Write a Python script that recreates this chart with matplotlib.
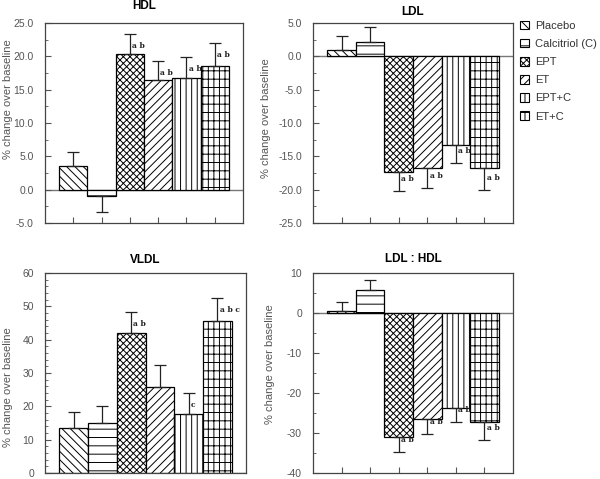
import matplotlib
matplotlib.use("Agg")
import matplotlib.pyplot as plt
from matplotlib.patches import Patch
from matplotlib.ticker import MultipleLocator, FormatStrFormatter

plt.rcParams["font.family"] = ["Liberation Sans", "DejaVu Sans"]
plt.rcParams["hatch.linewidth"] = 0.7

# ==============================
# DATA
# ==============================

groups = ["Placebo", "Calcitriol (C)", "EPT", "ET", "EPT+C", "ET+C"]

hdl_vals = [3.5, -0.9, 20.4, 16.5, 16.8, 18.6]
hdl_err = [2.1, 2.4, 2.9, 2.85, 3.1, 3.4]
hdl_marks = ["", "", "a b", "a b", "a b", "a b"]

ldl_vals = [0.9, 2.2, -17.4, -16.7, -13.3, -16.8]
ldl_err = [2.2, 2.2, 2.8, 3.0, 2.7, 3.3]
ldl_marks = ["", "", "a b", "a b", "a b", "a b"]

vldl_vals = [13.5, 15.0, 42.0, 25.8, 17.7, 45.6]
vldl_err = [4.8, 5.1, 6.3, 6.6, 6.3, 6.9]
vldl_marks = ["", "", "a b", "", "c", "a b c"]

ratio_vals = [0.4, 5.7, -31.0, -26.5, -23.8, -27.3]
ratio_err = [2.4, 2.6, 3.8, 3.7, 3.4, 4.4]
ratio_marks = ["", "", "a b", "a b", "a b", "a b"]

hatches = ["\\\\\\\\", "--", "xxxxx", "////", "|||", "|||--"]

# ==============================
# PANEL HELPER
# ==============================

grey = "#555555"


def panel(rect, title, vals, errs, marks, ylim, major, minor, fmt, title_pad, label_pos):
    ax = fig.add_axes(rect)
    x = list(range(len(vals)))
    ax.axhline(0, color="#777777", lw=1.0, zorder=0)
    ax.bar(x, vals, width=1.0, color="white", edgecolor="black",
           linewidth=0.9, hatch=hatches, zorder=2)
    lo = [e if v < 0 else 0 for v, e in zip(vals, errs)]
    hi = [e if v >= 0 else 0 for v, e in zip(vals, errs)]
    ax.errorbar(x, vals, yerr=[lo, hi], fmt="none", ecolor="#222222",
                elinewidth=0.9, capsize=4.5, capthick=0.9, zorder=3)
    span = ylim[1] - ylim[0]
    for xi, v, e, m in zip(x, vals, errs, marks):
        if not m:
            continue
        if v >= 0:
            y = v + e - 0.06 * span
        else:
            y = v - e + 0.06 * span
        ax.text(xi + 0.08, y, m, fontsize=5.5, family="DejaVu Serif",
                fontweight="bold", ha="left", va="center", color="#222222", zorder=4)
    ax.set_xlim(-1.0, 6.0)
    ax.set_ylim(*ylim)
    ax.set_xticks(x)
    ax.set_xticklabels([])
    ax.yaxis.set_major_locator(MultipleLocator(major))
    ax.yaxis.set_minor_locator(MultipleLocator(minor))
    ax.yaxis.set_major_formatter(FormatStrFormatter(fmt))
    ax.tick_params(axis="y", which="major", direction="in", length=4,
                   width=0.8, color=grey, labelsize=7.5, labelcolor=grey, pad=8)
    ax.tick_params(axis="y", which="minor", direction="in", length=2.5,
                   width=0.6, color=grey)
    ax.tick_params(axis="x", direction="in", length=4, width=0.8, color=grey)
    for s in ax.spines.values():
        s.set_color("#444444")
        s.set_linewidth(0.9)
    ax.set_title(title, fontsize=8.5, fontweight="bold", pad=title_pad)
    ax.set_ylabel("% change over baseline", fontsize=8, color=grey)
    ax.yaxis.set_label_coords(*label_pos)
    return ax


fig = plt.figure(figsize=(6.0, 4.79), dpi=100)

panel([0.075, 0.5344, 0.33, 0.4175], "HDL", hdl_vals, hdl_err, hdl_marks,
      (-5, 25), 5, 2.5, "%.1f", 10, (-0.16, 0.62))
panel([0.5217, 0.5344, 0.3333, 0.4175], "LDL", ldl_vals, ldl_err, ldl_marks,
      (-25, 5), 5, 2.5, "%.1f", 6, (-0.21, 0.525))
panel([0.075, 0.0125, 0.335, 0.4175], "VLDL", vldl_vals, vldl_err, vldl_marks,
      (0, 60), 10, 2, "%.0f", 7, (-0.16, 0.43))
panel([0.5217, 0.0125, 0.3333, 0.4175], "LDL : HDL", ratio_vals, ratio_err, ratio_marks,
      (-40, 10), 10, 5, "%.0f", 8, (-0.19, 0.545))

handles = [Patch(facecolor="white", edgecolor="black", hatch=h, linewidth=0.8)
           for h in hatches]
fig.legend(handles, groups, loc="upper left", bbox_to_anchor=(0.858, 0.968),
           frameon=False, fontsize=8, handlelength=0.8, handleheight=0.8,
           handletextpad=0.5, labelspacing=0.72, borderpad=0.0,
           labelcolor="#333333")

fig.savefig("out.png", dpi=100)
